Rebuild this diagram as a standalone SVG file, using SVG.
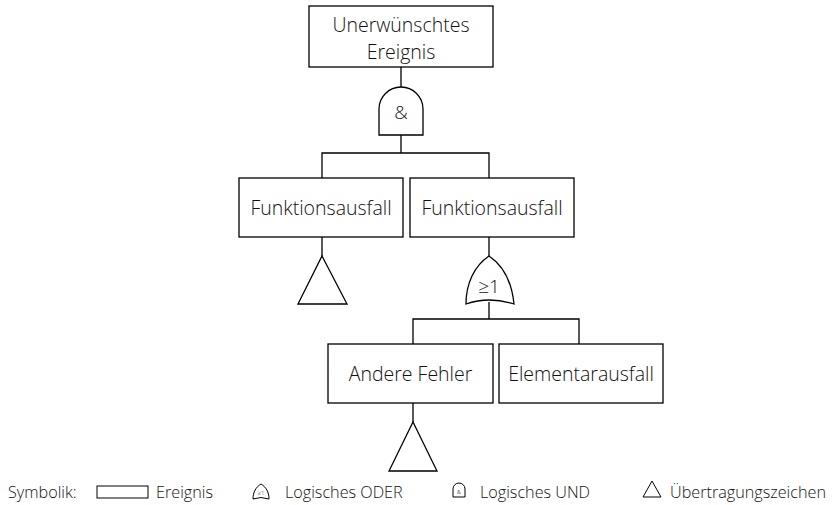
<svg xmlns="http://www.w3.org/2000/svg" width="833" height="505" viewBox="0 0 833 505">
<style>
.b{fill:#fff;stroke:#000;stroke-width:1.3}
.l{fill:none;stroke:#000;stroke-width:1.3}
.s{fill:#fff;stroke:#000;stroke-width:1}
text{font-family:"Open Sans","Noto Sans","Liberation Sans",sans-serif;fill:#111;font-weight:350}
.t{font-size:19.5px;text-anchor:middle}
.g{font-size:19px;text-anchor:middle}
.lg{font-size:16.2px}
</style>
<rect width="833" height="505" fill="#fff"/>
<g id="connectors">
<path class="l" d="M401,67V87M401,135V153M322,178V153H489V178M322,237V256M489,237V256M489,302V319M413,344V319H579V344M413,403V422"/>
</g>
<g id="top">
<rect class="b" x="309" y="6" width="184" height="61"/>
<text class="t" x="401" y="32">Unerwünschtes</text>
<text class="t" x="401" y="59">Ereignis</text>
</g>
<g id="and">
<path class="b" d="M379,135V109A22,22 0 0 1 423,109V135Z"/>
<text class="g" x="401" y="119">&amp;</text>
</g>
<g id="f1">
<rect class="b" x="239" y="178" width="164" height="59"/>
<text class="t" x="321" y="215">Funktionsausfall</text>
</g>
<g id="f2">
<rect class="b" x="410" y="178" width="164" height="59"/>
<text class="t" x="492" y="215">Funktionsausfall</text>
</g>
<g id="tr1">
<path class="b" d="M322,256L347,304H298Z"/>
</g>
<g id="or">
<path class="b" d="M466,304C466,284 474,266 489,256C504,266 512,284 514,304Q489,296 466,304Z"/>
<text class="g" x="489" y="293">≥1</text>
</g>
<g id="a">
<rect class="b" x="328" y="344" width="165" height="59"/>
<text class="t" x="410.5" y="381">Andere Fehler</text>
</g>
<g id="e">
<rect class="b" x="499" y="344" width="164" height="59"/>
<text class="t" x="581" y="381">Elementarausfall</text>
</g>
<g id="tr2">
<path class="b" d="M413,422L437,471H389Z"/>
</g>
<g id="legend">
<text class="lg" x="8" y="498">Symbolik:</text>
<rect class="s" x="97" y="486" width="51" height="12"/>
<text class="lg" x="156" y="498">Ereignis</text>
<path class="s" d="M253,499C253,492 256,487 261,484C266,487 269,492 269,499Q261,496 253,499Z"/>
<text x="261" y="495" font-size="6" text-anchor="middle">≥1</text>
<text class="lg" x="285" y="498">Logisches ODER</text>
<path class="s" d="M453,497V489A6,6 0 0 1 465,489V497Z"/>
<text x="459" y="494" font-size="6" text-anchor="middle">&amp;</text>
<text class="lg" x="480" y="498">Logisches UND</text>
<path class="s" d="M652,481L661,497H643Z"/>
<text class="lg" x="670" y="498">Übertragungszeichen</text>
</g>
</svg>
